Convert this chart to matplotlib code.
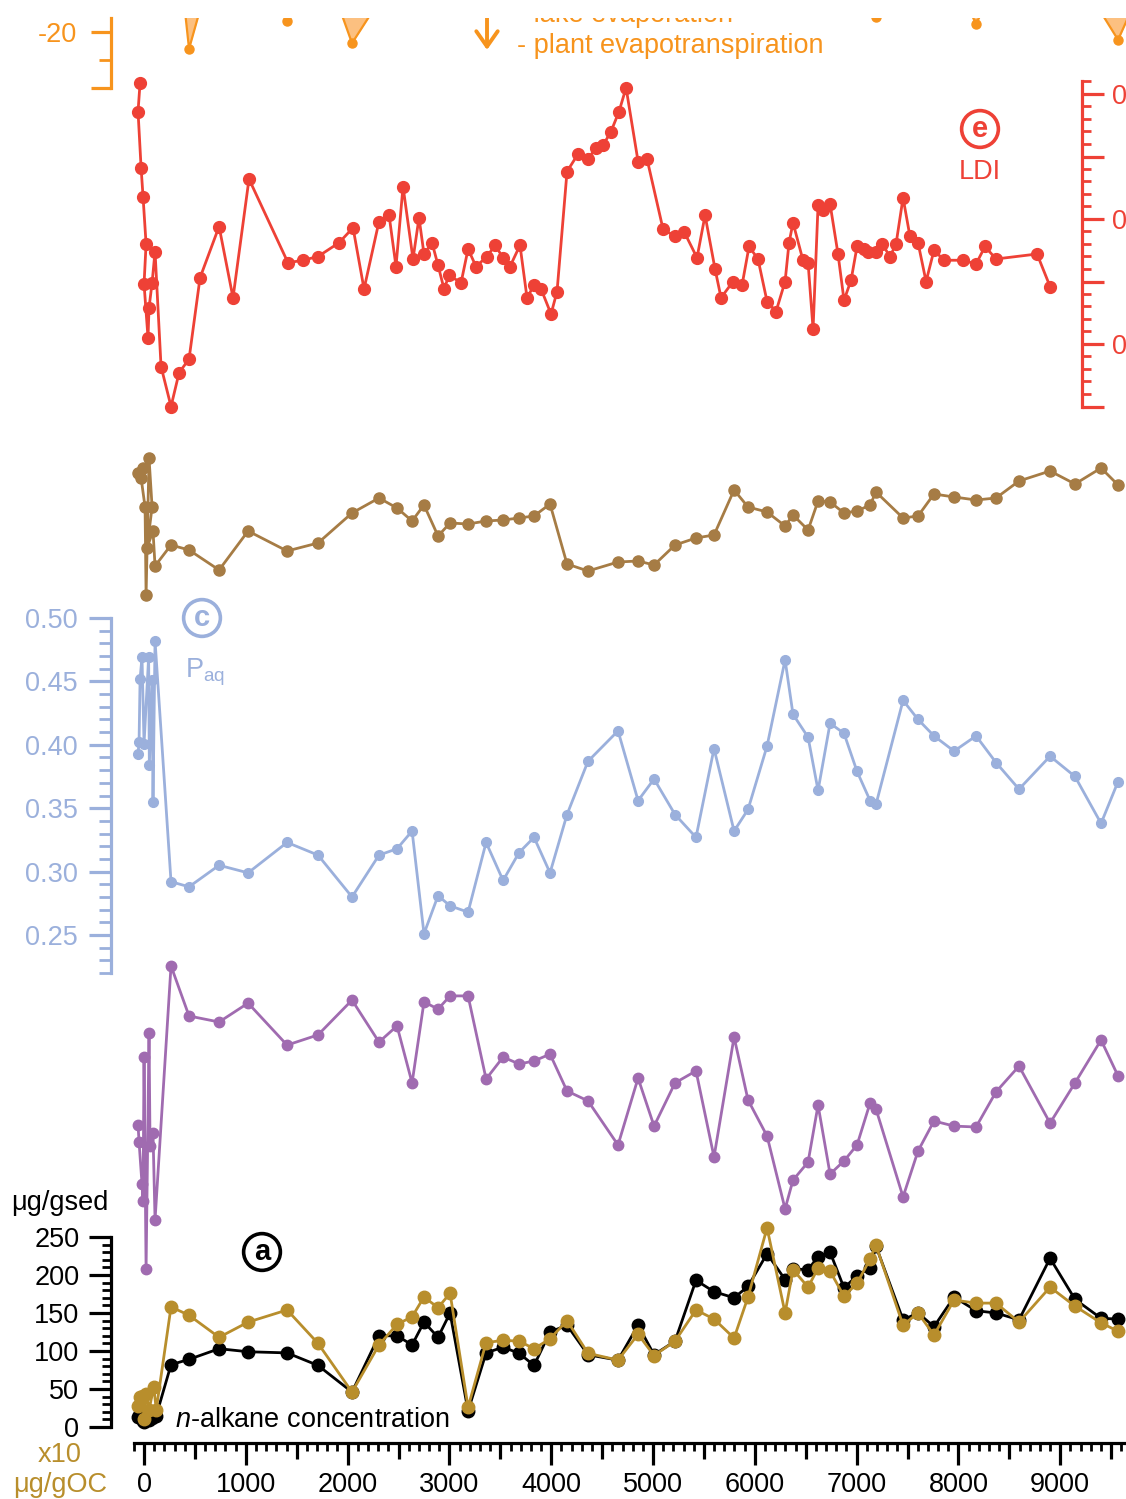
import numpy as np
import matplotlib.pyplot as plt
from matplotlib.patches import FancyArrowPatch

plt.rcParams['font.family'] = ['Liberation Sans', 'DejaVu Sans']
plt.rcParams['mathtext.fontset'] = 'custom'
plt.rcParams['mathtext.rm'] = 'Liberation Sans'
plt.rcParams['mathtext.it'] = 'Liberation Sans:italic'

# colours
RED = '#EE4136'
ORANGE = '#F7941D'
ORANGE_FILL = '#FCC080'
BROWN = '#A67C45'
BLUE = '#9BB0DC'
PURPLE = '#A06BB0'
GOLD = '#B88E2C'

FS = 19.5  # text size

# sample ages (yr BP) shared by panels a-d
age = [265, 442, 737, 1022, 1405, 1709, 2043, 2308, 2485, 2633,
       2750, 2888, 3006, 3183, 3360, 3527, 3684, 3831, 3988, 4155,
       4361, 4656, 4853, 5010, 5216, 5422, 5599, 5796, 5933, 6120,
       6297, 6375, 6523, 6621, 6739, 6876, 7004, 7132, 7190, 7456,
       7603, 7760, 7957, 8173, 8369, 8595, 8900, 9145, 9401, 9568]

# (a) n-alkane concentration
alk_top_age = [-55, -40, -15, 0, 20, 50, 80, 120]
alk_sed_top = [13, 18, 8, 6, 10, 9, 12, 15]
alk_oc_top_age = [-55, -40, -15, 0, 20, 50, 95, 120]
alk_oc_top = [28, 40, 41, 10, 44, 23, 53, 23]
alk_sed = [82, 89, 103, 99, 97.5, 81, 46, 120, 120, 108,
           138, 118, 150, 21, 97.5, 105, 97, 81, 125, 134,
           95, 88, 134, 95, 113, 193, 178, 170, 185, 228,
           194, 208, 207, 224, 230, 183, 199, 209, 238, 141,
           150, 132, 171, 153, 150, 141, 222, 168, 143, 142]
alk_oc = [158, 147, 118, 138, 154, 110, 46, 108, 135, 145,
          171, 157, 176, 26, 111, 114, 113, 103, 116, 140,
          97, 88, 122, 94, 113, 154, 142, 117, 171, 262,
          150, 207, 184, 209, 205, 172, 189, 221, 239, 134,
          150, 121, 167, 163, 163, 138, 184, 159, 137, 126]

# (b) purple series (no axis shown)
b_top_age = [-59, -49, -20, -10, 0, 20, 49, 59, 88, 108]
b_top = [5.17, 4.60, 3.20, 2.63, 7.43, 0.37, 8.23, 4.47, 4.90, 2.00]
b_val = [10.47, 8.80, 8.60, 9.23, 7.83, 8.17, 9.33, 7.93, 8.47, 6.57,
         9.27, 9.03, 9.47, 9.47, 6.70, 7.43, 7.20, 7.30, 7.53, 6.30,
         5.97, 4.50, 6.73, 5.13, 6.57, 6.97, 4.10, 8.10, 6.00, 4.80,
         2.37, 3.33, 3.93, 5.83, 3.53, 3.97, 4.50, 5.90, 5.70, 2.77,
         4.30, 5.30, 5.13, 5.10, 6.27, 7.13, 5.23, 6.57, 8.00, 6.80]

# (c) Paq
paq_top_age = [-59, -49, -39, -20, 0, 45, 52, 79, 88, 108]
paq_top = [0.393, 0.402, 0.452, 0.469, 0.401, 0.469, 0.384, 0.451, 0.355, 0.482]
paq = [0.292, 0.288, 0.305, 0.299, 0.323, 0.313, 0.280, 0.313, 0.318, 0.332,
       0.251, 0.281, 0.273, 0.268, 0.323, 0.293, 0.315, 0.327, 0.299, 0.345,
       0.387, 0.411, 0.356, 0.373, 0.345, 0.327, 0.397, 0.332, 0.349, 0.399,
       0.467, 0.424, 0.406, 0.364, 0.417, 0.409, 0.379, 0.356, 0.353, 0.435,
       0.420, 0.407, 0.395, 0.407, 0.386, 0.365, 0.391, 0.375, 0.338, 0.371]

# (d) brown series (no axis shown)
d_top_age = [-59, -10, -29, 10, 20, 49, 79, 29, 88, 108]
d_top = [28.77, 28.82, 28.72, 28.43, 27.55, 28.92, 28.43, 28.02, 28.19, 27.84]
d_val = [28.05, 28.00, 27.80, 28.19, 27.99, 28.07, 28.37, 28.52, 28.42, 28.29,
         28.45, 28.14, 28.27, 28.26, 28.29, 28.30, 28.32, 28.34, 28.46, 27.86,
         27.79, 27.88, 27.89, 27.85, 28.05, 28.12, 28.15, 28.60, 28.43, 28.38,
         28.24, 28.35, 28.20, 28.49, 28.48, 28.37, 28.39, 28.45, 28.58, 28.32,
         28.34, 28.56, 28.53, 28.50, 28.52, 28.69, 28.79, 28.66, 28.82, 28.65]

# (e) LDI
ldi_age = [-39, -59, -29, -10, 20, 0, 39, 49, 79, 108,
           167, 265, 344, 442, 550, 737, 874, 1031, 1414, 1562,
           1709, 1915, 2053, 2161, 2308, 2407, 2475, 2544, 2642, 2701,
           2750, 2829, 2888, 2947, 2996, 3114, 3183, 3261, 3369, 3448,
           3527, 3595, 3693, 3762, 3831, 3900, 3998, 4057, 4155, 4263,
           4361, 4440, 4509, 4587, 4666, 4735, 4853, 4941, 5098, 5216,
           5304, 5432, 5511, 5609, 5668, 5786, 5874, 5943, 6031, 6120,
           6208, 6297, 6336, 6375, 6473, 6523, 6572, 6621, 6670, 6739,
           6817, 6876, 6945, 7004, 7073, 7112, 7190, 7250, 7328, 7387,
           7456, 7524, 7603, 7682, 7760, 7859, 8045, 8173, 8261, 8369,
           8772, 8900]
ldi = [0.809, 0.786, 0.741, 0.718, 0.680, 0.648, 0.605, 0.629, 0.649, 0.674,
       0.582, 0.550, 0.577, 0.588, 0.653, 0.694, 0.637, 0.732, 0.665, 0.667,
       0.670, 0.681, 0.693, 0.644, 0.698, 0.703, 0.662, 0.726, 0.668, 0.701,
       0.672, 0.681, 0.663, 0.644, 0.655, 0.649, 0.676, 0.662, 0.670, 0.679,
       0.669, 0.662, 0.679, 0.637, 0.647, 0.644, 0.624, 0.642, 0.738, 0.752,
       0.748, 0.757, 0.759, 0.770, 0.786, 0.805, 0.746, 0.748, 0.692, 0.686,
       0.690, 0.669, 0.703, 0.660, 0.637, 0.650, 0.647, 0.678, 0.668, 0.634,
       0.626, 0.650, 0.681, 0.697, 0.667, 0.665, 0.612, 0.711, 0.707, 0.712,
       0.672, 0.635, 0.651, 0.678, 0.676, 0.674, 0.674, 0.680, 0.670, 0.680,
       0.717, 0.686, 0.681, 0.650, 0.675, 0.667, 0.667, 0.664, 0.678, 0.668,
       0.672, 0.646]

# (f) top orange series, only its lower part is visible
f_age = [100, 265, 442, 737, 1022, 1405, 1709, 2043, 2308, 2750,
         3360, 4155, 5010, 5796, 6297, 6739, 7190, 7456, 7957, 8173,
         8369, 8900, 9145, 9401, 9568, 9800]
f_val = [-5, 7, -23.0, -4, -2, -18.0, -5, -22.0, -14.5, -6,
         -3, -8, -5, -9, -6, -10, -17.3, -9, -10, -18.6,
         -11, -7, -8, -16.5, -21.4, -12]

W, H = 1126, 1499
X0, X1 = -1415, 9646   # x range across the full width
SPINE_X = -324         # left axes position
RIGHT_X = 9214         # LDI axis position

fig = plt.figure(figsize=(W / 100, H / 100), dpi=100)


def panel(top, bottom, ylim):
    ax = fig.add_axes([0, 1 - bottom / H, 1, (bottom - top) / H])
    ax.patch.set_visible(False)
    for s in ax.spines.values():
        s.set_visible(False)
    ax.set_xticks([])
    ax.set_yticks([])
    ax.set_xlim(X0, X1)
    ax.set_ylim(*ylim)
    return ax


def yaxis(ax, color, xpos, lo, hi, major, labels, minor, side='left',
          maj_len=15.8, min_len=7, pad=7):
    lim = ax.get_ylim()
    sp = ax.spines[side]
    sp.set_visible(True)
    sp.set_position(('data', xpos))
    sp.set_bounds(lo, hi)
    sp.set_color(color)
    sp.set_linewidth(2.3)
    ax.yaxis.set_ticks_position(side)
    ax.set_yticks(major, labels)
    ax.set_yticks(minor, minor=True)
    ax.set_ylim(*lim)
    ax.tick_params(axis='y', which='major', length=maj_len, width=2.3,
                   color=color, labelcolor=color, labelsize=FS, pad=pad)
    ax.tick_params(axis='y', which='minor', length=min_len, width=2.0,
                   color=color)


def ftxt(px, py, s, **kw):
    kw.setdefault('ha', 'center')
    kw.setdefault('va', 'center')
    kw.setdefault('fontsize', FS)
    return fig.text(px / W, 1 - py / H, s, **kw)


ax_f = panel(18, 88, (-30, -17.5))
ax_e = panel(75, 415, (0.5432, 0.8152))
ax_d = panel(440, 610, (27.4, 29.1))
ax_c = panel(600, 980, (0.2145, 0.5142))
ax_b = panel(950, 1280, (0, 11))
ax_a = panel(1190, 1443, (-21.05, 311.8))

# top orange panel
ax_f.fill_between(f_age, f_val, -10, color=ORANGE_FILL, lw=0)
ax_f.plot(f_age, f_val, '-o', color=ORANGE, lw=1.6, ms=6.5)
yaxis(ax_f, ORANGE, SPINE_X, -30, -17.5, [-30, -20], ['', '-20'], [-25],
      maj_len=14.4, min_len=8.6, pad=10)
arr = FancyArrowPatch((3369, -15), (3369, -23.2),
                      arrowstyle='->,head_length=0.5,head_width=0.35',
                      mutation_scale=22, lw=2.8, color=ORANGE,
                      shrinkA=0, shrinkB=0)
ax_f.add_patch(arr)
t = ax_f.text(517 / W, 1 - 22 / H, '- lake evaporation', transform=fig.transFigure,
              color=ORANGE, fontsize=FS, ha='left', va='baseline')
t.set_clip_box(ax_f.bbox)
t.set_clip_on(True)
ftxt(517, 46, '- plant evapotranspiration', color=ORANGE, ha='left')

# (e) LDI
ax_e.plot(ldi_age, ldi, '-o', color=RED, lw=2.0, ms=8.5)
yaxis(ax_e, RED, RIGHT_X, 0.55, 0.81, [0.55, 0.60, 0.65, 0.70, 0.75, 0.80],
      ['', '0.6', '', '0.7', '', '0.8'], np.arange(0.56, 0.815, 0.01),
      side='right', maj_len=15.8, min_len=6.5, pad=6)
ftxt(980, 129, 'e', color=RED, fontsize=21, fontweight='bold',
     bbox=dict(boxstyle='circle,pad=0.15', fc='none', ec=RED, lw=2.6))
ftxt(980, 172, 'LDI', color=RED)

# (d)
ax_d.plot(d_top_age + age, d_top + d_val, '-o', color=BROWN, lw=2.0, ms=8)

# (c) Paq
ax_c.plot(paq_top_age + age, paq_top + paq, '-o', color=BLUE, lw=2.0, ms=7)
yaxis(ax_c, BLUE, SPINE_X, 0.22, 0.50, [0.25, 0.30, 0.35, 0.40, 0.45, 0.50],
      ['0.25', '0.30', '0.35', '0.40', '0.45', '0.50'],
      np.arange(0.22, 0.505, 0.01), maj_len=15.8, min_len=8.6, pad=8)
ftxt(202, 618, 'c', color=BLUE, fontsize=21, fontweight='bold',
     bbox=dict(boxstyle='circle,pad=0.15', fc='none', ec=BLUE, lw=2.6))
ftxt(185, 672, r'P$_{\mathrm{aq}}$', color=BLUE, ha='left')

# (b)
ax_b.plot(b_top_age + age, b_top + b_val, '-o', color=PURPLE, lw=2.0, ms=7.5)

# (a) n-alkane concentration
ax_a.plot(alk_top_age + age, alk_sed_top + alk_sed, '-o', color='black', lw=2.0, ms=9)
ax_a.plot(alk_oc_top_age + age, alk_oc_top + alk_oc, '-o', color=GOLD, lw=2.0, ms=9)
yaxis(ax_a, 'black', SPINE_X, 0, 250, list(range(0, 251, 50)),
      [str(v) for v in range(0, 251, 50)], list(range(0, 251, 10)),
      maj_len=15.8, min_len=6.5, pad=7)

sp = ax_a.spines['bottom']
sp.set_visible(True)
sp.set_bounds(-100, X1)
sp.set_linewidth(2.3)
xt = list(range(0, 9001, 1000))
ax_a.set_xticks(xt, [str(v) for v in xt])
ax_a.set_xticks(list(range(-100, 9700, 100)), minor=True)
ax_a.tick_params(axis='x', which='major', length=15.8, width=2.3,
                 labelsize=FS, pad=5)
ax_a.tick_params(axis='x', which='minor', length=5.8, width=2.0)
sec = ax_a.secondary_xaxis('bottom')
sec.set_xticks(list(range(500, 9600, 1000)))
sec.tick_params(length=11.5, width=2.3, labelbottom=False)
sec.spines['bottom'].set_visible(False)
ax_a.set_xlim(X0, X1)

ftxt(262, 1252, 'a', color='black', fontsize=21, fontweight='bold',
     bbox=dict(boxstyle='circle,pad=0.15', fc='none', ec='black', lw=2.6))
ftxt(175, 1420, r'$n$-alkane concentration', ha='left')
ftxt(60, 1203, 'μg/gsed')
ftxt(60, 1455, 'x10', color=GOLD)
ftxt(60, 1485, 'μg/gOC', color=GOLD)

fig.savefig('out.png', dpi=100)
